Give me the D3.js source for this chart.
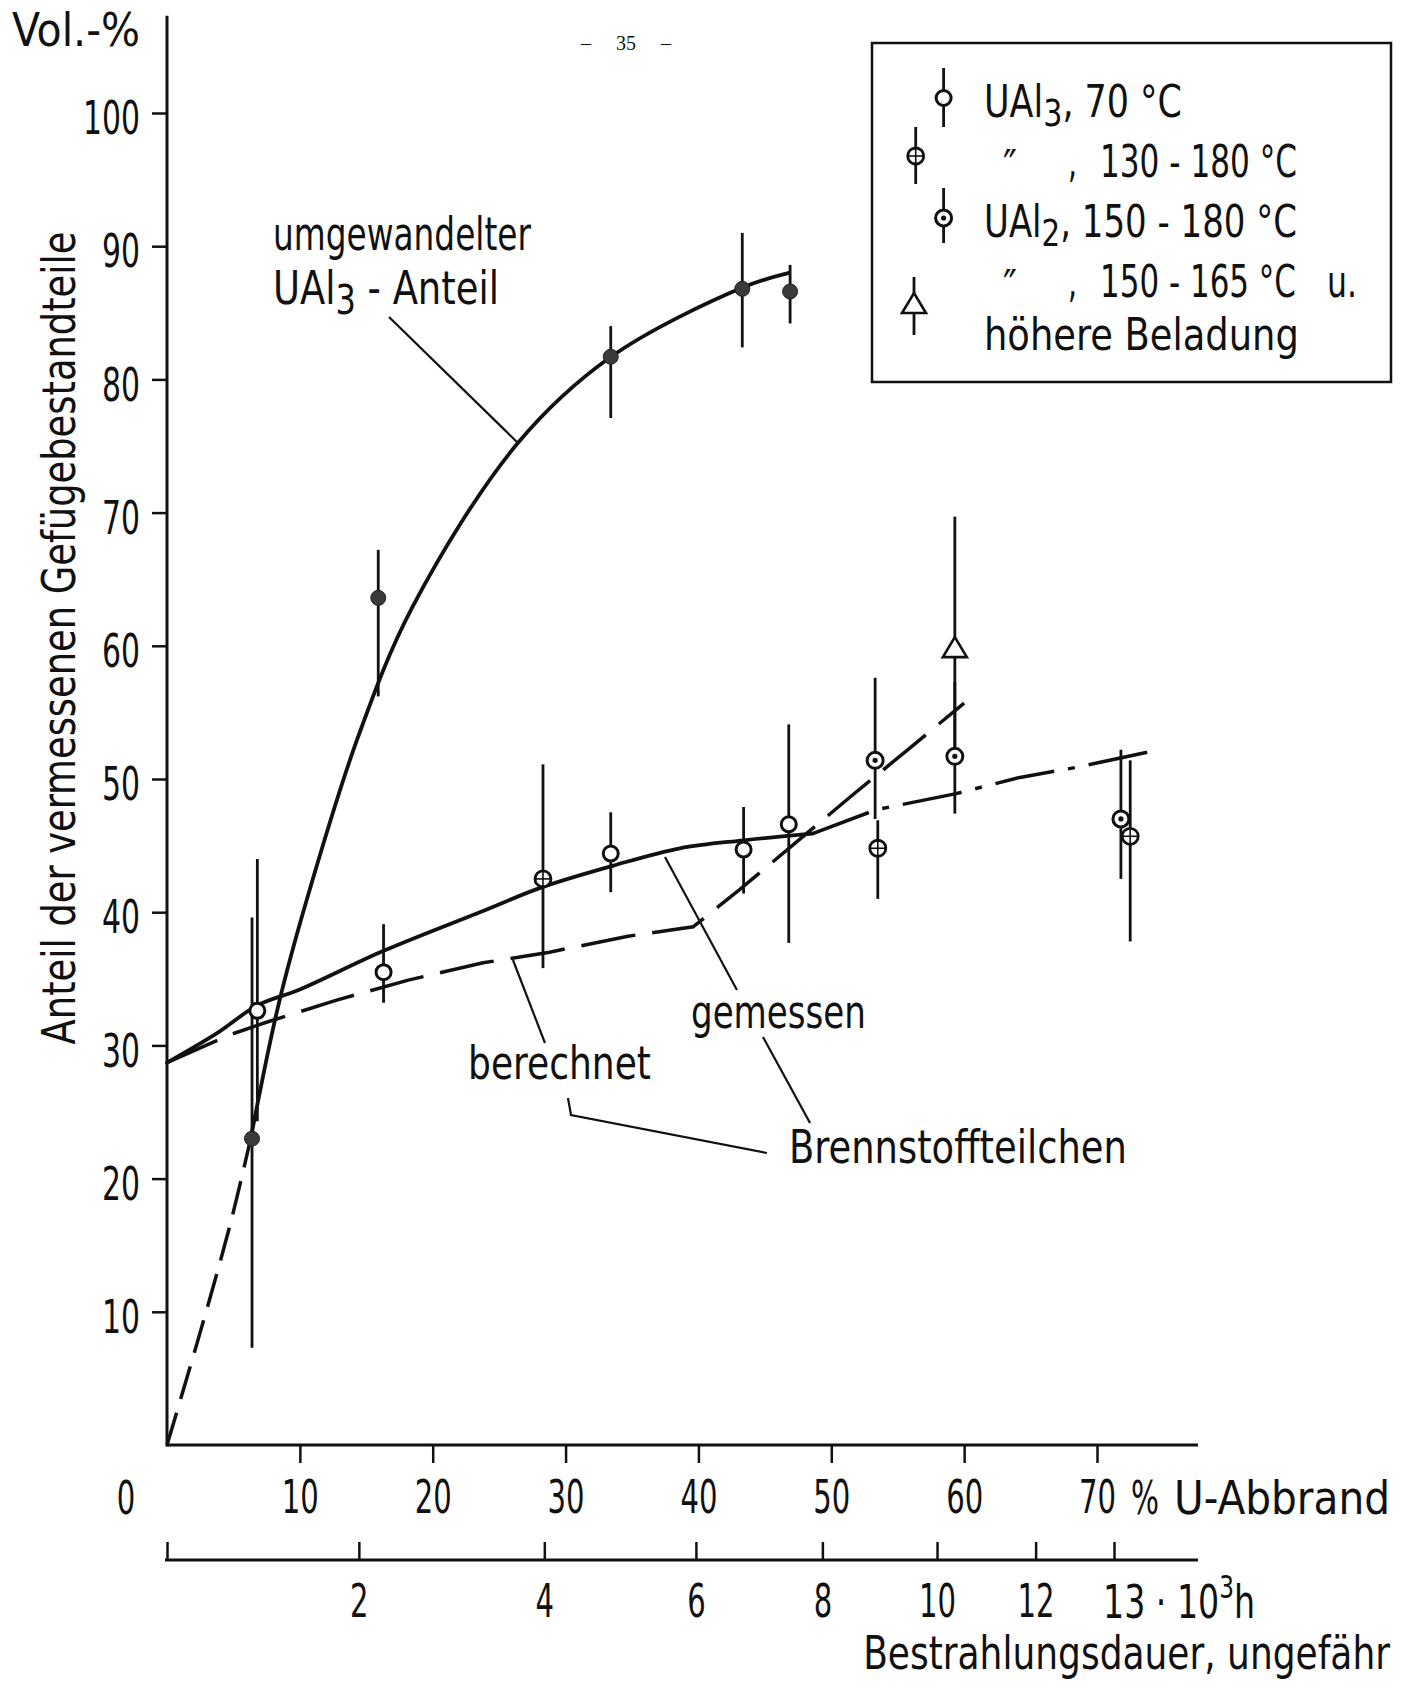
<!DOCTYPE html>
<html>
<head>
<meta charset="utf-8">
<script src="https://cdn.jsdelivr.net/npm/d3@7"></script>
<style>
  html, body { margin: 0; padding: 0; background: #ffffff; }
  svg { display: block; }
</style>
</head>
<body>
<svg id="chart"></svg>
<script>
// ---------------- DATA ----------------
// Axis ticks
const burnupTicks = [10, 20, 30, 40, 50, 60, 70];          // % U-Abbrand
const volTicks = [10, 20, 30, 40, 50, 60, 70, 80, 90, 100]; // Vol.-%
const hourTicks = [0, 2, 4, 6, 8, 10, 12, 13];              // 10^3 h
const hourTickBurnup = [0, 14.44, 28.40, 39.81, 49.33, 57.96, 65.38, 71.28]; // matching % U-Abbrand

// umgewandelter UAl3-Anteil (filled dots)
const convX  = [6.4, 15.9, 33.4, 43.3, 46.9];
const convY  = [23.0, 63.6, 81.7, 86.8, 86.6];
const convLo = [7.3, 56.2, 77.1, 82.4, 84.2];
const convHi = [39.6, 67.2, 84.0, 91.0, 88.6];

// UAl3, 70 °C (open circles)
const u3aX  = [6.8, 16.3, 33.4, 43.4, 46.8];
const u3aY  = [32.6, 35.5, 44.4, 44.7, 46.6];
const u3aLo = [24.3, 33.2, 41.5, 41.4, 37.7];
const u3aHi = [44.0, 39.1, 47.5, 47.9, 54.1];

// UAl3, 130-180 °C (circle with cross)
const u3bX  = [28.3, 53.5, 72.5];
const u3bY  = [42.5, 44.8, 45.7];
const u3bLo = [35.8, 41.0, 37.8];
const u3bHi = [51.1, 46.9, 51.4];

// UAl2, 150-180 °C (circle with dot)
const u2aX  = [53.3, 59.3, 71.8];
const u2aY  = [51.4, 51.7, 47.0];
const u2aLo = [47.0, 47.4, 42.5];
const u2aHi = [57.6, 57.3, 52.2];

// UAl2, 150-165 °C u. höhere Beladung (triangle)
const u2bX  = [59.3];
const u2bY  = [59.9];
const u2bLo = [52.4];
const u2bHi = [69.7];

// Curve: umgewandelter UAl3-Anteil (dashed up to upperDashEnd, then solid)
const upperX = [0, 2.48, 4.74, 6.3, 8.38, 10.51, 14.36, 18.47, 26.39, 33.42, 43.33, 46.82];
const upperY = [0, 8.4, 16.5, 23.0, 33.0, 40.9, 53.1, 62.9, 75.2, 81.7, 86.9, 88.0];
const upperDashEnd = 6.3;

// Curve: gemessen (solid) and its dash-dot continuation
const gemX = [0, 3.74, 6.8, 10.0, 16.3, 23.55, 28.3, 33.6, 38.6, 43.4, 48.6];
const gemY = [28.7, 30.9, 33.0, 34.2, 37.1, 40.0, 41.9, 43.5, 44.8, 45.4, 45.9];
const gemExtX = [48.6, 53.4, 59.4, 64.1, 68.6, 74.2];
const gemExtY = [45.9, 47.7, 48.9, 50.1, 50.9, 52.1];

// Curve: berechnet (dashed)
const berX = [0, 4.74, 7.37, 12.77, 18.16, 23.8, 28.8, 34.7, 39.6, 43.1, 47.3, 51.6, 56.0, 60.0];
const berY = [28.7, 30.8, 31.7, 33.4, 34.9, 36.2, 37.0, 38.2, 38.9, 41.7, 45.2, 48.8, 52.4, 55.7];

// Leader lines (data units)
const leaderUAl3 = [[16.71, 84.68], [26.42, 75.23]];
const leaderBer1 = [[26.04, 36.41], [28.45, 30.18]];
const leaderBer2 = [[30.18, 26.05], [30.41, 24.77], [45.16, 21.92]];
const leaderGem1 = [[37.48, 44.14], [42.90, 34.16]];
const leaderGem2 = [[44.86, 30.63], [48.40, 24.17]];

// Axis extents
const xAxisEnd = 77.6;
const yAxisTop = 107.3;

// ---------------- DRAWING ----------------
const W = 1422, H = 1689;
const INK = "#111";
const FONT = "'Liberation Sans Narrow','DejaVu Sans Condensed','Roboto Condensed','Liberation Sans',Arial,sans-serif";
const FS = 46;
const LFS = 44;

const svg = d3.select("#chart").attr("width", W).attr("height", H)
  .attr("font-family", FONT);
svg.append("rect").attr("width", W).attr("height", H).attr("fill", "#fff");

const x = d3.scaleLinear().domain([0, 70]).range([167, 1097]);
const y = d3.scaleLinear().domain([0, 100]).range([1445, 113]);
const hx = d3.scaleLinear().domain(hourTicks).range(hourTickBurnup.map(v => x(v)));

function fit(sel, len) {
  return sel.attr("textLength", len).attr("lengthAdjust", "spacingAndGlyphs");
}
// Text squeezed horizontally to a target width with a transform (keeps bbox honest)
function sized(parent, px, py, width, opts) {
  opts = opts || {};
  const t = parent.append("text").attr("x", 0).attr("y", 0)
    .attr("font-size", opts.fs || FS).attr("fill", INK)
    .attr("text-anchor", opts.anchor || "start");
  if (opts.build) opts.build(t); else t.text(opts.text);
  const w = t.node().getComputedTextLength() || width;
  const rot = opts.rotate ? ` rotate(${opts.rotate})` : "";
  t.attr("transform", `translate(${px},${py})${rot} scale(${width / w},1)`);
  return t;
}
function label(txt, px, py, len, anchor, fs) {
  return sized(svg, px, py, len, {text: txt, anchor: anchor, fs: fs});
}

// ---- axes lines ----
svg.append("line").attr("x1", x(0)).attr("x2", x(0)).attr("y1", y(0) + 1.5).attr("y2", y(yAxisTop))
  .attr("stroke", INK).attr("stroke-width", 3);
svg.append("line").attr("x1", x(0)).attr("x2", x(xAxisEnd)).attr("y1", y(0)).attr("y2", y(0))
  .attr("stroke", INK).attr("stroke-width", 3);

// ---- x axis (% U-Abbrand) ----
const gx = svg.append("g").attr("transform", `translate(0,${y(0)})`)
  .call(d3.axisBottom(x).tickValues(burnupTicks).tickSize(18).tickPadding(17).tickFormat(d3.format("d")));
gx.attr("font-size", null).attr("font-family", null);
gx.select(".domain").remove();
gx.selectAll(".tick line").attr("stroke", INK).attr("stroke-width", 2.5);
gx.selectAll(".tick text").attr("font-size", FS).attr("fill", INK)
  .each(function(d) { fit(d3.select(this), String(d).length * 18.5); });
label("0", x(0) - 41, y(0) + 68.5, 18.5, "middle");
label("%", 1131, y(0) + 68.5, 28);
label("U-Abbrand", 1174, y(0) + 68.5, 216);

// ---- y axis (Vol.-%) ----
const gy = svg.append("g").attr("transform", `translate(${x(0)},0)`)
  .call(d3.axisLeft(y).tickValues(volTicks).tickSize(15).tickPadding(12).tickFormat(d3.format("d")));
gy.attr("font-size", null).attr("font-family", null);
gy.select(".domain").remove();
gy.selectAll(".tick line").attr("stroke", INK).attr("stroke-width", 2.5);
gy.selectAll(".tick text").attr("font-size", FS).attr("fill", INK).attr("dy", "0.45em")
  .each(function(d) { fit(d3.select(this), String(d).length * 19); });
label("Vol.-%", 140, 46, 128, "end");

// ---- lower axis (Bestrahlungsdauer) ----
const lowY = 1560;
svg.append("line").attr("x1", x(0) - 2).attr("x2", x(xAxisEnd)).attr("y1", lowY).attr("y2", lowY)
  .attr("stroke", INK).attr("stroke-width", 3);
const gh = svg.append("g").attr("transform", `translate(0,${lowY})`)
  .call(d3.axisBottom(hx).tickValues(hourTicks).tickSizeInner(-18).tickSizeOuter(0).tickPadding(24)
    .tickFormat(d => String(d)));
gh.attr("font-size", null).attr("font-family", null);
gh.select(".domain").remove();
gh.selectAll(".tick line").attr("stroke", INK).attr("stroke-width", 2.5);
gh.selectAll(".tick text").filter(d => d === 0 || d === 13).remove();
gh.selectAll(".tick text").attr("font-size", FS).attr("fill", INK)
  .each(function(d) { fit(d3.select(this), String(d).length * 18.5); });
// "13·10³h" label for the last tick
sized(svg, hx(13) - 11, lowY + 57.5, 152, {build: t => {
  t.append("tspan").text("13 · 10");
  t.append("tspan").attr("font-size", 32).attr("dy", -20).text("3");
  t.append("tspan").attr("dy", 20).text("h");
}});
label("Bestrahlungsdauer, ungefähr", 1390, 1669, 527, "end");

// ---- y title ----
sized(svg, 75, 638, 813, {text: "Anteil der vermessenen Gefügebestandteile", anchor: "middle", rotate: -90});

// ---- page number ----
svg.append("text").attr("x", 626).attr("y", 50).attr("text-anchor", "middle")
  .attr("font-family", "'Liberation Serif','DejaVu Serif',serif").attr("font-size", 20).attr("fill", INK)
  .attr("xml:space", "preserve").text("–     35     –");

// ---- curves ----
const zip = (a, b) => a.map((v, i) => [v, b[i]]);
const smooth = d3.line().x(d => x(d[0])).y(d => y(d[1])).curve(d3.curveCatmullRom.alpha(0.5));
const straight = d3.line().x(d => x(d[0])).y(d => y(d[1]));

const upperPts = zip(upperX, upperY);
svg.append("path").datum(upperPts.filter(p => p[0] <= upperDashEnd))
  .attr("d", smooth).attr("fill", "none").attr("stroke", INK).attr("stroke-width", 3.5)
  .attr("stroke-dasharray", "34,14");
svg.append("path").datum(upperPts.filter(p => p[0] >= upperDashEnd))
  .attr("d", smooth).attr("fill", "none").attr("stroke", INK).attr("stroke-width", 3.8)
  .attr("stroke-linecap", "round");

svg.append("path").datum(zip(berX, berY))
  .attr("d", straight).attr("fill", "none").attr("stroke", INK).attr("stroke-width", 3.5)
  .attr("stroke-dasharray", "55,17");

svg.append("path").datum(zip(gemX, gemY))
  .attr("d", smooth).attr("fill", "none").attr("stroke", INK).attr("stroke-width", 3.8)
  .attr("stroke-linecap", "round");
svg.append("path").datum(zip(gemExtX, gemExtY))
  .attr("d", straight).attr("fill", "none").attr("stroke", INK).attr("stroke-width", 3.5)
  .attr("stroke-dasharray", "60,14,7,14");

// ---- leader lines ----
[leaderUAl3, leaderBer1, leaderBer2, leaderGem1, leaderGem2].forEach(pts => {
  svg.append("path").datum(pts).attr("d", straight).attr("fill", "none")
    .attr("stroke", INK).attr("stroke-width", 2.2);
});

// ---- annotations ----
label("umgewandelter", 273, 250, 258);
sized(svg, 273, 304, 226, {build: t => {
  t.append("tspan").text("UAl");
  t.append("tspan").attr("dy", 10).attr("font-size", 40).text("3");
  t.append("tspan").attr("dy", -10).text(" - Anteil");
}});
label("gemessen", 691, 1028, 175);
label("berechnet", 468, 1079, 183);
label("Brennstoffteilchen", 789, 1163, 338);

// ---- error bars & markers ----
function series(X, Y, LO, HI) { return X.map((v, i) => ({x: v, y: Y[i], lo: LO[i], hi: HI[i]})); }
const sConv = series(convX, convY, convLo, convHi);
const sU3a = series(u3aX, u3aY, u3aLo, u3aHi);
const sU3b = series(u3bX, u3bY, u3bLo, u3bHi);
const sU2a = series(u2aX, u2aY, u2aLo, u2aHi);
const sU2b = series(u2bX, u2bY, u2bLo, u2bHi);

const bars = svg.append("g");
[sConv, sU3a, sU3b, sU2a, sU2b].forEach(s => {
  bars.selectAll(null).data(s).enter().append("line")
    .attr("x1", d => x(d.x)).attr("x2", d => x(d.x))
    .attr("y1", d => y(d.lo)).attr("y2", d => y(d.hi))
    .attr("stroke", INK).attr("stroke-width", 2.8);
});

function drawMarker(g, kind, cx, cy) {
  if (kind === "filled") {
    g.append("circle").attr("cx", cx).attr("cy", cy).attr("r", 7.5)
      .attr("fill", "#3a3a3a").attr("stroke", "#222").attr("stroke-width", 1);
  } else if (kind === "open") {
    g.append("circle").attr("cx", cx).attr("cy", cy).attr("r", 7.5)
      .attr("fill", "#fff").attr("stroke", INK).attr("stroke-width", 3);
  } else if (kind === "cross") {
    g.append("circle").attr("cx", cx).attr("cy", cy).attr("r", 8)
      .attr("fill", "#fff").attr("stroke", INK).attr("stroke-width", 2.8);
    g.append("line").attr("x1", cx - 8).attr("x2", cx + 8).attr("y1", cy).attr("y2", cy)
      .attr("stroke", INK).attr("stroke-width", 1.6);
    g.append("line").attr("x1", cx).attr("x2", cx).attr("y1", cy - 8).attr("y2", cy + 8)
      .attr("stroke", INK).attr("stroke-width", 1.6);
  } else if (kind === "dot") {
    g.append("circle").attr("cx", cx).attr("cy", cy).attr("r", 8)
      .attr("fill", "#fff").attr("stroke", INK).attr("stroke-width", 3);
    g.append("circle").attr("cx", cx).attr("cy", cy).attr("r", 2.6).attr("fill", INK);
  } else if (kind === "tri") {
    g.append("path").attr("d", `M${cx},${cy - 10}L${cx + 12},${cy + 10}L${cx - 12},${cy + 10}Z`)
      .attr("fill", "#fff").attr("stroke", INK).attr("stroke-width", 2.6).attr("stroke-linejoin", "miter");
  }
}
const marks = svg.append("g");
sConv.forEach(d => drawMarker(marks, "filled", x(d.x), y(d.y)));
sU3a.forEach(d => drawMarker(marks, "open", x(d.x), y(d.y)));
sU3b.forEach(d => drawMarker(marks, "cross", x(d.x), y(d.y)));
sU2a.forEach(d => drawMarker(marks, "dot", x(d.x), y(d.y)));
sU2b.forEach(d => drawMarker(marks, "tri", x(d.x), y(d.y)));

// ---- legend ----
const lg = svg.append("g");
lg.append("rect").attr("x", 872).attr("y", 43).attr("width", 519).attr("height", 339)
  .attr("fill", "#fff").attr("stroke", INK).attr("stroke-width", 2.5);
const legendItems = [
  {kind: "open",  cx: 943.6, cy: 98,  y1: 68,  y2: 127},
  {kind: "cross", cx: 915.7, cy: 156, y1: 127, y2: 184},
  {kind: "dot",   cx: 943.6, cy: 218, y1: 188, y2: 243},
  {kind: "tri",   cx: 914,   cy: 303, y1: 277, y2: 335}
];
legendItems.forEach(it => {
  lg.append("line").attr("x1", it.cx).attr("x2", it.cx).attr("y1", it.y1).attr("y2", it.y2)
    .attr("stroke", INK).attr("stroke-width", 2.8);
  drawMarker(lg, it.kind, it.cx, it.cy);
});
sized(lg, 984, 117, 198, {fs: LFS, build: t => {
  t.append("tspan").text("UAl");
  t.append("tspan").attr("dy", 9).attr("font-size", 38).text("3");
  t.append("tspan").attr("dy", -9).text(", 70 °C");
}});
sized(lg, 1003, 182, 14, {fs: LFS, text: "″"});
sized(lg, 1068, 177, 9, {fs: LFS, text: ","});
sized(lg, 1100, 177, 197, {fs: LFS, text: "130 - 180 °C"});
sized(lg, 984, 237, 313, {fs: LFS, build: t => {
  t.append("tspan").text("UAl");
  t.append("tspan").attr("dy", 9).attr("font-size", 38).text("2");
  t.append("tspan").attr("dy", -9).text(", 150 - 180 °C");
}});
sized(lg, 1003, 302, 14, {fs: LFS, text: "″"});
sized(lg, 1068, 297, 9, {fs: LFS, text: ","});
sized(lg, 1100, 297, 196, {fs: LFS, text: "150 - 165 °C"});
sized(lg, 1327, 297, 30, {fs: LFS, text: "u."});
sized(lg, 984, 350, 315, {fs: LFS, text: "höhere Beladung"});
</script>
</body>
</html>
